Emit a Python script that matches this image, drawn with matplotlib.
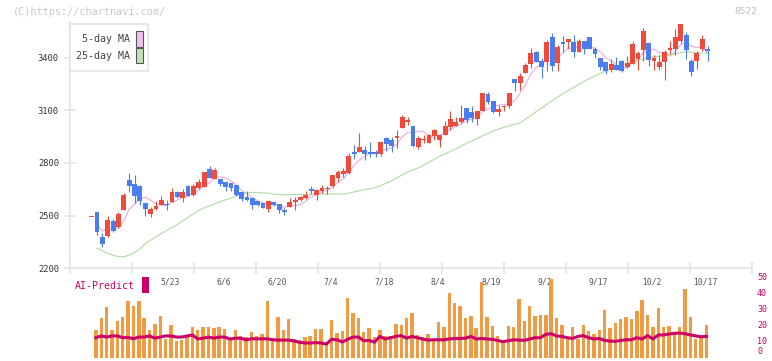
import numpy as np
import pandas as pd
import matplotlib
matplotlib.use("Agg")
import matplotlib.pyplot as plt
from matplotlib.patches import Rectangle
from matplotlib.transforms import blended_transform_factory

W, H = 772, 361
MONO = ["DejaVu Sans Mono"]

# daily candles, oldest first (index 0 has no volume / AI value shown)
opens = [2492, 2518, 2378, 2385, 2471, 2433, 2533, 2704, 2681, 2670,
         2572, 2511, 2537, 2558, 2569, 2575, 2632, 2603, 2670, 2615,
         2657, 2663, 2767, 2710, 2710, 2690, 2685, 2672, 2632, 2606,
         2598, 2581, 2573, 2537, 2579, 2567, 2533, 2549, 2575, 2590,
         2598, 2651, 2619, 2641, 2651, 2666, 2717, 2737, 2742, 2860,
         2860, 2875, 2860, 2860, 2850, 2941, 2932, 2945, 2998, 3031,
         3011, 2890, 2930, 2916, 2955, 2932, 2960, 3007, 3011, 3031,
         3112, 3089, 3051, 3098, 3193, 3154, 3093, 3116, 3125, 3279,
         3258, 3315, 3364, 3431, 3381, 3377, 3518, 3368, 3489, 3491,
         3491, 3434, 3495, 3518, 3450, 3400, 3374, 3332, 3360, 3380,
         3347, 3366, 3393, 3445, 3484, 3383, 3347, 3374, 3442, 3451,
         3497, 3531, 3380, 3380, 3451, 3451]
highs = [2492, 2518, 2401, 2499, 2481, 2518, 2628, 2742, 2733, 2672,
         2572, 2552, 2581, 2613, 2590, 2655, 2640, 2651, 2675, 2680,
         2710, 2751, 2785, 2774, 2710, 2690, 2685, 2672, 2632, 2638,
         2598, 2581, 2573, 2581, 2579, 2567, 2543, 2600, 2606, 2610,
         2638, 2670, 2651, 2676, 2670, 2733, 2761, 2771, 2856, 2903,
         2970, 2894, 2920, 2875, 2925, 2950, 2950, 2989, 3074, 3064,
         3011, 2954, 2960, 2966, 2993, 2962, 3040, 3097, 3061, 3131,
         3112, 3125, 3097, 3197, 3207, 3154, 3131, 3131, 3201, 3279,
         3311, 3372, 3457, 3438, 3397, 3501, 3541, 3472, 3525, 3506,
         3529, 3506, 3495, 3520, 3463, 3400, 3374, 3394, 3402, 3389,
         3411, 3493, 3440, 3569, 3484, 3417, 3417, 3445, 3493, 3565,
         3592, 3546, 3394, 3436, 3531, 3465]
lows = [2492, 2390, 2319, 2376, 2408, 2429, 2533, 2632, 2572, 2562,
        2499, 2495, 2533, 2558, 2533, 2575, 2600, 2575, 2610, 2609,
        2651, 2663, 2714, 2710, 2666, 2643, 2640, 2612, 2581, 2585,
        2539, 2556, 2546, 2520, 2556, 2515, 2505, 2549, 2533, 2585,
        2594, 2624, 2590, 2628, 2624, 2660, 2689, 2720, 2738, 2822,
        2860, 2818, 2833, 2833, 2842, 2871, 2860, 2884, 2998, 3017,
        2890, 2879, 2916, 2913, 2932, 2890, 2960, 2989, 3011, 3027,
        3027, 3036, 3017, 3098, 3135, 3084, 3070, 3097, 3112, 3212,
        3216, 3315, 3340, 3374, 3286, 3326, 3326, 3326, 3434, 3450,
        3406, 3434, 3419, 3448, 3397, 3330, 3307, 3319, 3328, 3319,
        3341, 3366, 3328, 3380, 3354, 3332, 3332, 3275, 3423, 3414,
        3484, 3394, 3294, 3337, 3440, 3380]
closes = [2492, 2404, 2340, 2477, 2414, 2511, 2619, 2666, 2613, 2586,
          2539, 2537, 2556, 2590, 2560, 2632, 2607, 2636, 2613, 2670,
          2689, 2751, 2717, 2761, 2683, 2665, 2660, 2615, 2594, 2589,
          2562, 2562, 2546, 2581, 2562, 2532, 2518, 2579, 2590, 2606,
          2619, 2638, 2645, 2660, 2657, 2733, 2746, 2755, 2841, 2850,
          2890, 2852, 2852, 2850, 2920, 2907, 2899, 2956, 3064, 3046,
          2898, 2941, 2935, 2960, 2985, 2958, 3011, 3049, 3036, 3059,
          3046, 3059, 3097, 3197, 3150, 3093, 3108, 3122, 3197, 3258,
          3298, 3358, 3427, 3377, 3347, 3491, 3354, 3461, 3476, 3506,
          3434, 3495, 3450, 3450, 3421, 3349, 3326, 3366, 3332, 3323,
          3370, 3478, 3427, 3550, 3389, 3398, 3375, 3432, 3455, 3516,
          3592, 3442, 3317, 3427, 3508, 3440]

# 25-day moving average as drawn (includes days before the window)
ma25 = [np.nan, 2315, 2300, 2285, 2275, 2266, 2266, 2275, 2290, 2310,
        2340, 2360, 2380, 2398, 2415, 2432, 2450, 2470, 2490, 2510,
        2530, 2545, 2555, 2567, 2580, 2590, 2600, 2612, 2625, 2630,
        2632, 2632, 2630, 2628, 2622, 2620, 2619, 2619, 2620, 2620,
        2621, 2622, 2623, 2623, 2622, 2623, 2623, 2624, 2628, 2635,
        2642, 2648, 2654, 2660, 2672, 2685, 2698, 2715, 2733, 2748,
        2760, 2772, 2788, 2805, 2822, 2838, 2852, 2866, 2880, 2896,
        2912, 2925, 2940, 2955, 2968, 2982, 2994, 3003, 3012, 3020,
        3028, 3050, 3070, 3092, 3112, 3134, 3155, 3175, 3195, 3213,
        3230, 3248, 3265, 3282, 3296, 3310, 3325, 3336, 3345, 3355,
        3366, 3377, 3385, 3392, 3400, 3405, 3408, 3412, 3415, 3420,
        3428, 3434, 3430, 3427, 3426, 3425]

volume = [np.nan, 17.3, 25, 31.7, 17.3, 22.9, 25.4, 35.4, 32.3, 35.4,
          25, 17.3, 21, 26, 11.7, 20.4, 10.4, 11, 12.9, 19.2,
          17.3, 19.2, 19.2, 18.4, 19.2, 17.9, 11.7, 17.3, 13.5, 12.9,
          16, 13.5, 14.8, 35.4, 12.3, 25.4, 17.3, 24.2, 11.7, 11,
          12.9, 13.5, 17.9, 17.9, 7.9, 23.5, 15.4, 16.7, 37.3, 27.9,
          25, 16, 18.6, 12.9, 17.3, 13.5, 13.5, 21, 20.4, 24.8,
          27.9, 14.2, 12.9, 14.8, 11.7, 22.3, 19.2, 40.4, 34.2, 32.3,
          24.8, 26, 18.8, 47.3, 25.4, 19.8, 13.5, 10, 20, 19,
          37, 23, 32.5, 26, 26.8, 26.8, 49.5, 25, 20.5, 11.5,
          19.5, 12, 20.5, 17, 15, 17.5, 30, 18.5, 22, 24.5,
          25.5, 24.5, 29, 36, 27, 19, 31, 19.5, 20, 15,
          19, 43, 25.5, 11.5, 13.5, 20.5]

ai_predict = [np.nan, 12.5, 13.6, 12.9, 13.6, 13.6, 12.5, 12.7, 11.8, 12.9,
              12.9, 13.6, 12.2, 12.9, 13.6, 13.6, 12.9, 12.9, 13.6, 14.2,
              11.8, 12.2, 12.9, 12.2, 12.9, 12.9, 11.7, 12.2, 12.2, 11.2,
              11.8, 11.8, 11.8, 11.8, 11.2, 11, 11, 11, 10.5, 9.6,
              9.2, 9.2, 9.4, 9.2, 8.5, 11.5, 11.2, 9.8, 11.5, 12.9,
              12.9, 10.6, 10.8, 9.7, 13.3, 11.7, 12.5, 13.3, 13.8, 12.2,
              13.3, 12.5, 11.7, 11, 11.2, 11.2, 11.2, 11.7, 12, 12,
              12.2, 13.3, 11.7, 12, 11.7, 11.5, 10.8, 10, 10.6, 11.2,
              11, 10.8, 11.7, 12.5, 12.5, 14.6, 15, 13.6, 13.3, 12.5,
              12, 13.3, 13.8, 12.5, 11.7, 12, 10.8, 10.4, 10.2, 10.8,
              11.2, 11.2, 12.5, 11.7, 13.8, 11.7, 14.2, 14.2, 14.8, 15.2,
              15.4, 15, 14.2, 13.6, 13.1, 13.3]

date_labels = ["5/23", "6/6", "6/20", "7/4", "7/18", "8/4",
               "8/19", "9/2", "9/17", "10/2", "10/17"]
date_index = [15, 25, 35, 45, 55, 65, 75, 85, 95, 105, 115]

price_ticks = [2200, 2500, 2800, 3100, 3400]
ai_ticks = [0, 10, 20, 30, 40, 50]

UP, DOWN = "#f04b3a", "#4a7ef0"
GRID = "#e2e2e2"
MAGENTA = "#cc0066"


def fx(px):
    return px / W


def fy(py):
    return 1 - py / H


n = len(closes)
idx = np.arange(n)
ma5 = pd.Series(closes, dtype=float).rolling(5, min_periods=1).mean().to_numpy()
ma5[0] = np.nan

fig = plt.figure(figsize=(W / 100, H / 100), dpi=100)
fig.patch.set_facecolor("white")

# x range in candle units: candle 0 sits at px 91.7, spacing 5.355 px
x0 = (70 - 91.7) / 5.355
x1 = (752 - 91.7) / 5.355

# ---- price panel
ax = fig.add_axes([fx(70), fy(268.3), fx(682), (268.3 - 22) / H])
ax.set_xlim(x0, x1)
ax.set_ylim(2200, 3603)

for i in idx:
    o, hi, lo, c = opens[i], highs[i], lows[i], closes[i]
    col = UP if c >= o else DOWN
    ax.vlines(i, lo, hi, color=col, lw=0.8, zorder=3)
    ax.bar(i, max(abs(c - o), 5), bottom=min(o, c), width=0.9,
           color=col, linewidth=0, zorder=4)

ax.plot(idx, ma5, color="#e8b2ec", lw=0.9, zorder=2)
ax.plot(idx, ma25, color="#b8deac", lw=0.9, zorder=2)

for s in ["top", "right"]:
    ax.spines[s].set_visible(False)
for s in ["left", "bottom"]:
    ax.spines[s].set_color(GRID)
    ax.spines[s].set_linewidth(1.1)
ax.set_xticks(np.linspace(x0, x1, 12))
ax.set_xticklabels([])
ax.set_yticks(price_ticks)
ax.set_yticklabels([str(t) for t in price_ticks], family=MONO,
                   fontsize=6.3, color="#333333")
ax.tick_params(axis="both", direction="inout", length=8, width=1.1,
               color=GRID, pad=4)

# ---- AI-Predict / volume panel
av = fig.add_axes([fx(70), fy(357.7), fx(682), 80 / H])
av.set_xlim(x0, x1)
av.set_ylim(0, 50)
for s in av.spines.values():
    s.set_visible(False)
av.set_xticks([])
av.set_yticks([])

# right-hand scale, drawn as text so the bottom "0" stays inside the image
right = blended_transform_factory(av.transAxes, av.transData)
for t in ai_ticks:
    av.text(1 + 5 / 682, t if t else 1.0, str(t), transform=right,
            family=MONO, fontsize=6, color="#c0005a", ha="left",
            va="center" if t else "bottom", clip_on=False)

for lab, i in zip(date_labels, date_index):
    av.text(i - 0.35, 47.6, lab, ha="center", va="center", family=MONO,
            fontsize=5.8, color="#555555", zorder=1)

av.bar(idx - 0.2, volume, width=0.64, color="#f09a42", linewidth=0, zorder=2)
av.plot(idx - 0.2, ai_predict, color=MAGENTA, lw=2.2, zorder=3,
        solid_joinstyle="round")

fig.text(fx(75), fy(286), "AI-Predict", family=MONO, fontsize=7.1,
         color=MAGENTA, va="center", ha="left")
fig.add_artist(Rectangle((fx(142.3), fy(292.7)), fx(6.7), 16 / H,
                         transform=fig.transFigure, color=MAGENTA, lw=0))

# ---- legend box
fig.add_artist(Rectangle((fx(70), fy(71)), fx(78), 47 / H,
                         transform=fig.transFigure, facecolor="white",
                         edgecolor=GRID, lw=1.1, zorder=5))
for text, yc, face in [("5-day MA", 39, "#f0c2f0"),
                       ("25-day MA", 55.8, "#c2e2b4")]:
    fig.text(fx(129.5), fy(yc), text, family=MONO, fontsize=7.2,
             color="#444444", ha="right", va="center", zorder=6)
    fig.add_artist(Rectangle((fx(136.3), fy(yc + 7.5)), fx(6.3), 15 / H,
                             transform=fig.transFigure, facecolor=face,
                             edgecolor="#555555", lw=0.8, zorder=6))

fig.text(fx(13), fy(12), "(C)https://chartnavi.com/", family=MONO,
         fontsize=7.3, color="#c8c8c8", ha="left", va="center")
fig.text(fx(757), fy(12), "8522", family=MONO, fontsize=6.8,
         color="#c0c0c0", ha="right", va="center")

fig.savefig("out.png", dpi=100)
